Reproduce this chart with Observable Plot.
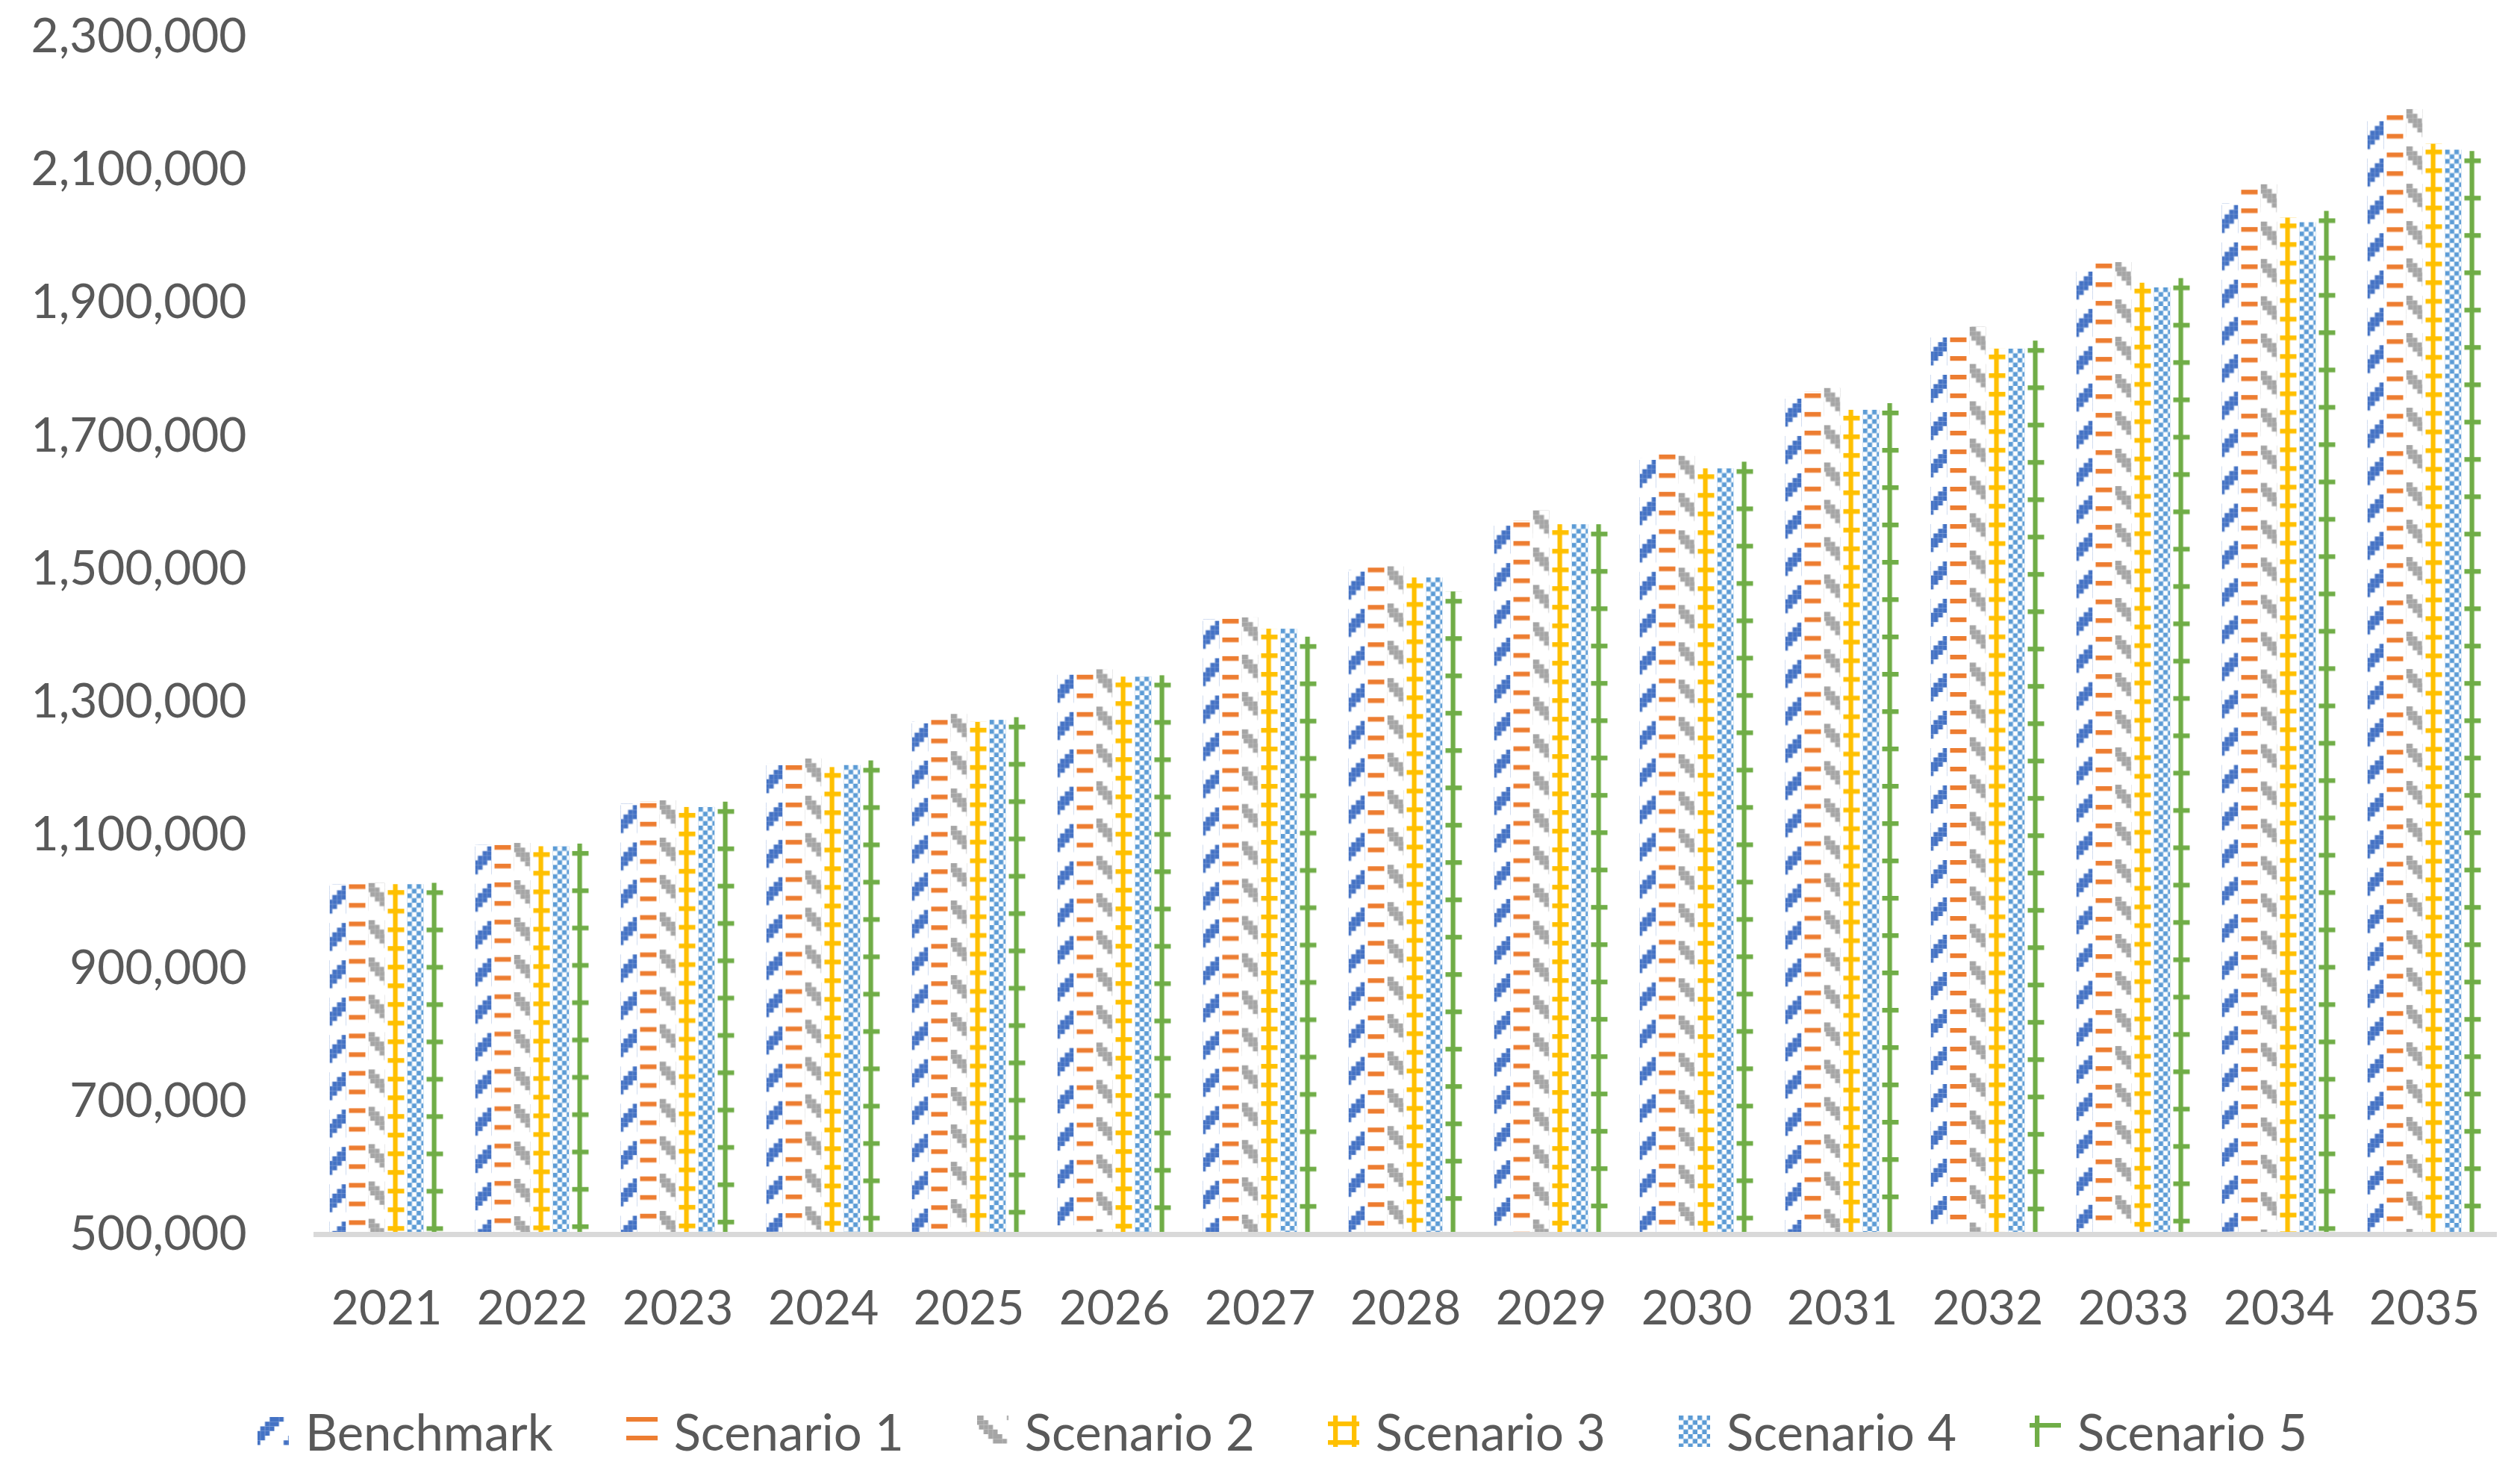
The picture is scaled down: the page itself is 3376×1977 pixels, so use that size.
<!DOCTYPE html>
<html>
<head>
<meta charset="utf-8">
<script src="https://cdn.jsdelivr.net/npm/d3@7"></script>
<script src="https://cdn.jsdelivr.net/npm/@observablehq/plot@0.6"></script>
<style>
  html, body { margin: 0; padding: 0; background: #ffffff; }
  #chart { width: 3376px; height: 1800px; }
  #chart > svg { display: block; }
  #legend {
    width: 3376px; height: 177px; box-sizing: border-box; padding-top: 84px; padding-left: 60px;
    display: flex; justify-content: center; align-items: flex-start; gap: 98px;
    font-family: Lato, sans-serif; font-size: 67px; color: #595959;
  }
  .item { display: flex; align-items: center; gap: 22px; height: 66px; }
  .item span { line-height: 66px; white-space: nowrap; }
  .item svg { display: block; }
</style>
</head>
<body>
<div id="chart"></div>
<div id="legend"></div>
<script>
// ---- data ----
const years = ["2021","2022","2023","2024","2025","2026","2027","2028","2029","2030","2031","2032","2033","2034","2035"];
const seriesNames = ["Benchmark", "Scenario 1", "Scenario 2", "Scenario 3", "Scenario 4", "Scenario 5"];
const benchmark = [1026000, 1085000, 1147000, 1207000, 1270000, 1343000, 1424000, 1498000, 1567000, 1666000, 1758000, 1850000, 1949000, 2049000, 2175000];
const scenario1 = [1028000, 1087000, 1150000, 1207000, 1275000, 1343000, 1427000, 1504000, 1572000, 1674000, 1766000, 1850000, 1961000, 2072000, 2184000];
const scenario2 = [1028000, 1088000, 1152000, 1215000, 1282000, 1349000, 1427000, 1504000, 1588000, 1670000, 1772000, 1864000, 1961000, 2078000, 2191000];
const scenario3 = [1026000, 1083000, 1142000, 1202000, 1270000, 1338000, 1410000, 1487000, 1567000, 1651000, 1739000, 1831000, 1930000, 2028000, 2139000];
const scenario4 = [1026000, 1083000, 1142000, 1205000, 1273000, 1338000, 1410000, 1487000, 1567000, 1651000, 1739000, 1831000, 1923000, 2021000, 2130000];
const scenario5 = [1028000, 1087000, 1150000, 1212000, 1277000, 1340000, 1398000, 1466000, 1567000, 1661000, 1749000, 1843000, 1937000, 2038000, 2128000];
const yTicks = [500000, 700000, 900000, 1100000, 1300000, 1500000, 1700000, 1900000, 2100000, 2300000];
const yMin = 500000, yMax = 2300000;
const colors = ["#4472C4", "#ED7D31", "#A5A5A5", "#FFC000", "#5B9BD5", "#70AD47"];

const seriesValues = [benchmark, scenario1, scenario2, scenario3, scenario4, scenario5];
const data = years.flatMap((yr, i) => seriesNames.map((s, j) => ({year: yr, series: s, value: seriesValues[j][i]})));

// ---- patterns (Excel-like hatch fills) ----
const b = 6.25; // one pattern "bit"
const defs = d3.select("body").append("svg")
  .attr("width", 0).attr("height", 0)
  .style("position", "absolute").style("left", 0).style("top", 0)
  .append("defs");

function tile(id, color, w, h, ox, oy, rects) {
  const p = defs.append("pattern").attr("id", id)
    .attr("patternUnits", "userSpaceOnUse")
    .attr("x", ox).attr("y", oy).attr("width", w).attr("height", h);
  for (const [x, y, rw, rh] of rects) {
    for (const dx of [-w, 0, w]) {
      p.append("rect").attr("x", x + dx).attr("y", y).attr("width", rw).attr("height", rh).attr("fill", color);
    }
  }
}
// Benchmark: dashed upward diagonal
{
  const r = [];
  for (let row = 0; row < 6; row++) for (const c of [3 - row, 4 - row, 5 - row]) r.push([((c % 8) + 8) % 8 * b, row * b, b, b]);
  tile("tile0", colors[0], 8 * b, 8 * b, -2.5, 2, r);
}
// Scenario 1: dashed horizontal
tile("tile1", colors[1], 8 * b, 4 * b, 0, 2, [[0, 0, 8 * b, b]]);
// Scenario 2: dashed downward diagonal
{
  const r = [];
  for (let row = 0; row < 6; row++) for (const c of [row - 2, row - 1, row]) r.push([((c % 8) + 8) % 8 * b, row * b, b, b]);
  tile("tile2", colors[2], 8 * b, 8 * b, 2.5, 0, r);
}
// Scenario 3: small grid
tile("tile3", colors[3], 4 * b, 4 * b, 7, 8, [[0, 0, 4 * b, b], [0, 0, b, 4 * b]]);
// Scenario 4: small checker board
tile("tile4", colors[4], 2 * b, 2 * b, 0, 0, [[0, 0, b, b], [b, b, b, b]]);
// Scenario 5: large grid
tile("tile5", colors[5], 8 * b, 8 * b, 7, 10, [[0, 0, 8 * b, b], [0, 0, b, 8 * b]]);

// outer patterns anchored at each bar's top-left corner
seriesNames.forEach((_, i) => {
  defs.append("pattern").attr("id", `pat${i}`)
    .attr("patternUnits", "objectBoundingBox")
    .attr("patternContentUnits", "userSpaceOnUse")
    .attr("x", 0).attr("y", 0).attr("width", 1).attr("height", 1)
    .append("rect").attr("x", 0).attr("y", 0).attr("width", 200).attr("height", 2400)
    .attr("fill", `url(#tile${i})`);
});

// ---- chart ----
const chart = Plot.plot({
  width: 3376,
  height: 1800,
  marginLeft: 420,
  marginRight: 31,
  marginTop: 49,
  marginBottom: 147,
  style: {fontFamily: "Lato, sans-serif", fontSize: "64px", color: "#595959", background: "#ffffff"},
  fx: {domain: years, padding: 0, label: null, axis: "bottom", tickSize: 0, tickPadding: 75},
  x: {domain: seriesNames, axis: null, paddingInner: 4 / 26, paddingOuter: 0.826923, round: false},
  y: {domain: [yMin, yMax], ticks: yTicks, tickFormat: d3.format(","), tickSize: 0, tickPadding: 90, label: null},
  color: {type: "ordinal", domain: seriesNames, range: seriesNames.map((_, i) => `url(#pat${i})`)},
  marks: [
    Plot.barY(data, {fx: "year", x: "series", y1: yMin, y2: "value", fill: "series"}),
    Plot.ruleY([yMin], {stroke: "#D9D9D9", strokeWidth: 7})
  ]
});
document.getElementById("chart").appendChild(chart);

// ---- legend ----
const legend = d3.select("#legend");
seriesNames.forEach((s, i) => {
  const item = legend.append("div").attr("class", "item");
  const sw = item.append("svg").attr("width", 42).attr("height", 42);
  sw.append("rect").attr("width", 42).attr("height", 42).attr("fill", `url(#pat${i})`);
  item.append("span").text(s);
});
</script>
</body>
</html>
